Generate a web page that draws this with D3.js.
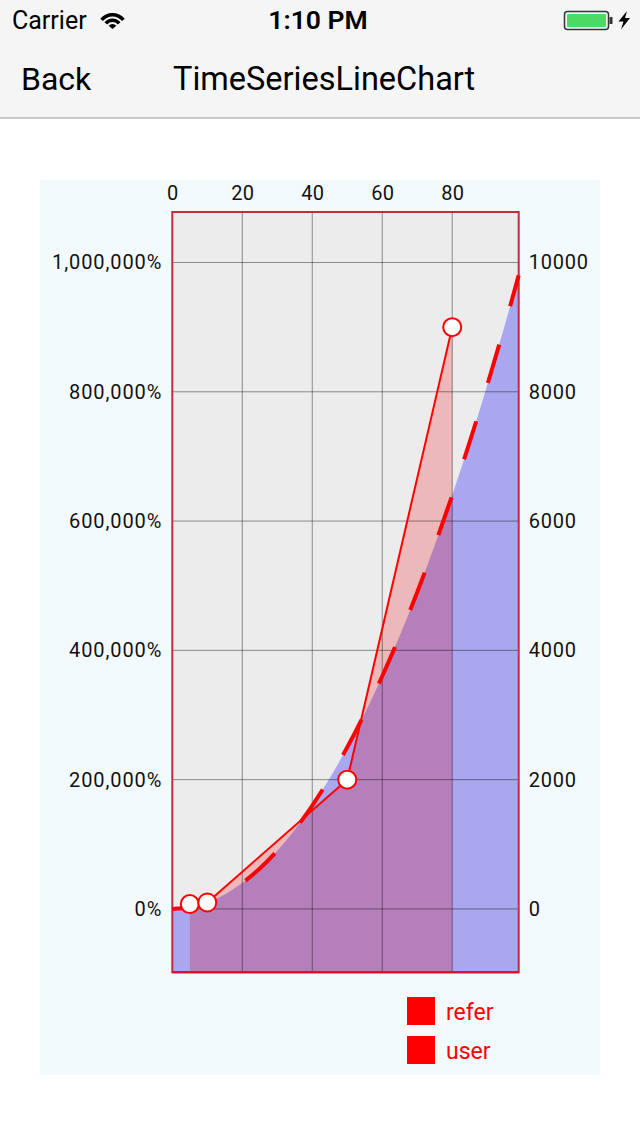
<!DOCTYPE html>
<html>
<head>
<meta charset="utf-8">
<script src="https://cdn.jsdelivr.net/npm/d3@7"></script>
<style>
  html, body { margin: 0; padding: 0; background: #ffffff; }
  svg { display: block; }
  text { font-family: Roboto, "Noto Sans", sans-serif; }
</style>
</head>
<body>
<svg id="chart" width="640" height="1136"></svg>
<script>
// ---------- data ----------
const referX = [0, 5, 10, 15, 20, 25, 30, 35, 40, 45, 50, 55, 60, 65, 70, 75, 80, 85, 90, 95, 99];
const referY = [0, 25, 100, 225, 400, 625, 900, 1225, 1600, 2025, 2500, 3025, 3600, 4225, 4900, 5625, 6400, 7225, 8100, 9025, 9801];
const userX = [5, 10, 50, 80];
const userY = [75, 100, 2000, 9000];
const xTicks = [0, 20, 40, 60, 80];
const yTicks = [0, 2000, 4000, 6000, 8000, 10000];
const seriesNames = ["refer", "user"];
const yDomain = [-980.1, 10781.1];
const xDomain = [0, 99];

const refer = referX.map((x, i) => ({x, y: referY[i]}));
const user = userX.map((x, i) => ({x, y: userY[i]}));

const svg = d3.select("#chart");

// ---------- status / nav bar ----------
svg.append("rect").attr("x", 0).attr("y", 0).attr("width", 640).attr("height", 118).attr("fill", "#f5f5f5");
svg.append("rect").attr("x", 0).attr("y", 117).attr("width", 640).attr("height", 2).attr("fill", "#c9c9c9");
svg.append("text").attr("x", 12).attr("y", 29).attr("font-size", 25).attr("fill", "#000").text("Carrier");
const wifi = svg.append("g").attr("transform", "translate(112.5,29)");
const wArc = d3.arc().startAngle(-0.87).endAngle(0.87);
[[12.5, 16], [7, 10.5], [0, 5]].forEach(([ir, or]) => {
  wifi.append("path").attr("d", wArc({innerRadius: ir, outerRadius: or})).attr("fill", "#000");
});
svg.append("text").attr("x", 318).attr("y", 29).attr("text-anchor", "middle").attr("font-size", 26.5)
  .attr("font-weight", 600).attr("fill", "#000").text("1:10 PM");
svg.append("rect").attr("x", 564.5).attr("y", 11.5).attr("width", 44).attr("height", 18).attr("rx", 3)
  .attr("fill", "none").attr("stroke", "#333").attr("stroke-width", 1.5);
svg.append("rect").attr("x", 567).attr("y", 14).attr("width", 39).attr("height", 13).attr("rx", 1).attr("fill", "#4cd964");
svg.append("rect").attr("x", 609.5).attr("y", 17).attr("width", 3).attr("height", 7).attr("fill", "#333");
svg.append("path").attr("d", "M627,11 L618.5,21.5 L623.5,21.5 L621,29.5 L630,18 L625,18 Z").attr("fill", "#000");
svg.append("text").attr("x", 21).attr("y", 90).attr("font-size", 32).attr("fill", "#000").text("Back");
svg.append("text").attr("x", 173).attr("y", 90).attr("font-size", 32.5).attr("fill", "#000").text("TimeSeriesLineChart");

// ---------- chart ----------
svg.append("rect").attr("x", 40).attr("y", 180).attr("width", 560).attr("height", 895).attr("fill", "#f3fafd");

const x = d3.scaleLinear().domain(xDomain).range([172.3, 518.7]);
const y = d3.scaleLinear().domain(yDomain).range([972.3, 212]);
const plotL = x.range()[0], plotR = x.range()[1], plotT = y.range()[1], plotB = y.range()[0];

svg.append("rect").attr("x", plotL).attr("y", plotT).attr("width", plotR - plotL).attr("height", plotB - plotT)
  .attr("fill", "#ececec");

const referArea = d3.area().x(d => x(d.x)).y0(plotB).y1(d => y(d.y)).curve(d3.curveMonotoneX);
const referLine = d3.line().x(d => x(d.x)).y(d => y(d.y)).curve(d3.curveMonotoneX);
const userArea = d3.area().x(d => x(d.x)).y0(plotB).y1(d => y(d.y));
const userLine = d3.line().x(d => x(d.x)).y(d => y(d.y));

const defs = svg.append("defs");
defs.append("clipPath").attr("id", "userClip").append("path").attr("d", userArea(user));

svg.append("path").attr("d", referArea(refer)).attr("fill", "#aaa6ef");
svg.append("path").attr("d", userArea(user)).attr("fill", "#ecb8b9");
svg.append("path").attr("d", referArea(refer)).attr("fill", "#b57fbb").attr("clip-path", "url(#userClip)");

// grid
const grid = svg.append("g").attr("stroke", "rgba(0,0,0,0.42)").attr("stroke-width", 1);
xTicks.filter(t => t > 0).forEach(t => {
  grid.append("line").attr("x1", x(t)).attr("x2", x(t)).attr("y1", plotT).attr("y2", plotB);
});
yTicks.forEach(t => {
  grid.append("line").attr("x1", plotL).attr("x2", plotR).attr("y1", y(t)).attr("y2", y(t));
});

// border
svg.append("rect").attr("x", plotL).attr("y", plotT).attr("width", plotR - plotL).attr("height", plotB - plotT)
  .attr("fill", "none").attr("stroke", "#bd2f3d").attr("stroke-width", 2);
svg.append("line").attr("x1", plotL).attr("x2", plotR).attr("y1", plotB).attr("y2", plotB)
  .attr("stroke", "#e00a22").attr("stroke-width", 2);

// axes (labels only)
const axTop = d3.axisTop(x).tickValues(xTicks).tickSize(0).tickPadding(12);
const gTop = svg.append("g").attr("transform", `translate(0,${plotT})`).call(axTop);
const axLeft = d3.axisLeft(y).tickValues(yTicks).tickSize(0).tickPadding(10).tickFormat(d3.format(",.0%"));
const gLeft = svg.append("g").attr("transform", `translate(${plotL},0)`).call(axLeft);
const axRight = d3.axisRight(y).tickValues(yTicks).tickSize(0).tickPadding(10).tickFormat(d3.format("d"));
const gRight = svg.append("g").attr("transform", `translate(${plotR},0)`).call(axRight);
[gTop, gLeft, gRight].forEach(g => {
  g.select(".domain").remove();
  g.selectAll("text").attr("font-size", 20).attr("fill", "#111").attr("font-family", "Roboto, sans-serif");
});
gLeft.selectAll("text").attr("letter-spacing", 0.9);
gRight.selectAll("text").attr("letter-spacing", 0.8);
gTop.selectAll("text").attr("letter-spacing", 0.3);

// lines
svg.append("path").attr("d", referLine(refer)).attr("fill", "none").attr("stroke", "#ff0000")
  .attr("stroke-width", 4).attr("stroke-dasharray", "40,40");
svg.append("path").attr("d", userLine(user)).attr("fill", "none").attr("stroke", "#ff0000").attr("stroke-width", 2);
svg.selectAll("circle.pt").data(user).enter().append("circle").attr("class", "pt")
  .attr("cx", d => x(d.x)).attr("cy", d => y(d.y)).attr("r", 9)
  .attr("fill", "#ffffff").attr("stroke", "#ff0000").attr("stroke-width", 2);

// legend
const leg = svg.append("g").attr("transform", "translate(407,997)");
seriesNames.forEach((name, i) => {
  const g = leg.append("g").attr("transform", `translate(0,${i * 39})`);
  g.append("rect").attr("width", 28).attr("height", 28).attr("fill", "#ff0000");
  g.append("text").attr("x", 39).attr("y", 23).attr("font-size", 23).attr("fill", "#ff0000").text(name);
});
</script>
</body>
</html>
